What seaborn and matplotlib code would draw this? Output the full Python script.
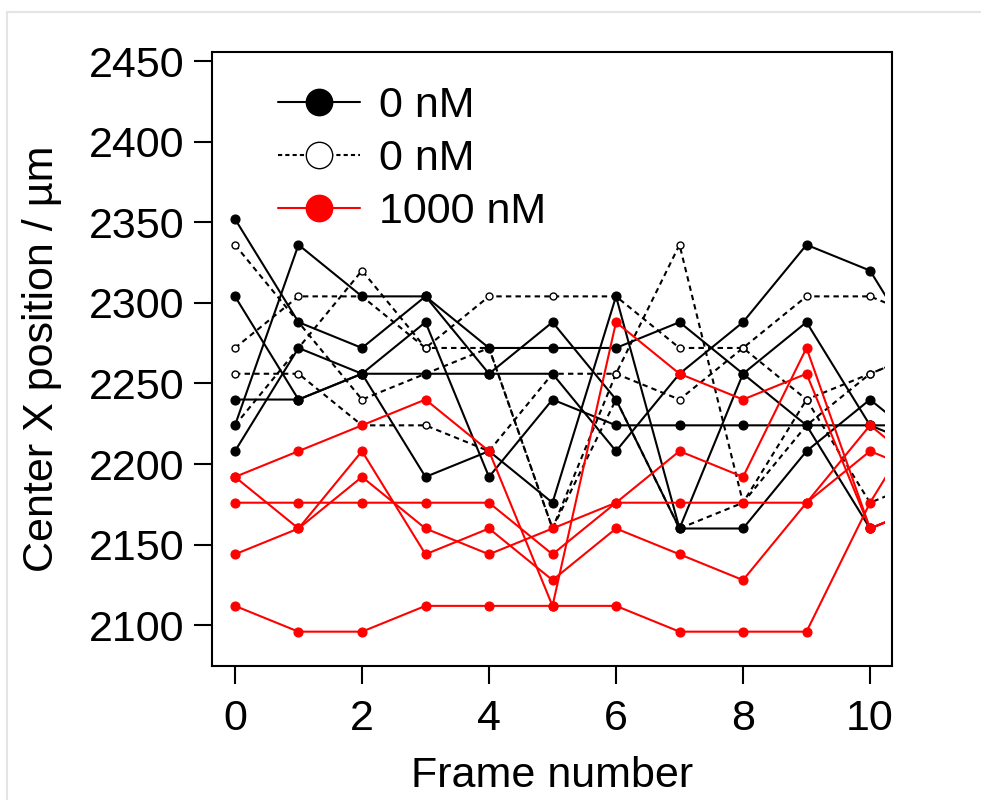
import pandas as pd
import matplotlib
matplotlib.use('Agg')
import matplotlib.pyplot as plt
import seaborn as sns
from matplotlib.lines import Line2D
from matplotlib.patches import Rectangle

# 프레임 번호 (마지막 점은 축 밖으로 잘림)
frames = list(range(12))

# 0 nM (실선, 채운 점)
solid_a = [2352, 2288, 2272, 2304, 2256, 2288, 2240, 2160, 2256, 2288, 2224, 2208]
solid_b = [2304, 2240, 2256, 2256, 2256, 2256, 2208, 2256, 2288, 2336, 2320, 2256]
solid_c = [2240, 2240, 2256, 2192, 2208, 2176, 2304, 2160, 2160, 2208, 2240, 2208]
solid_d = [2224, 2336, 2304, 2304, 2272, 2272, 2272, 2288, 2256, 2224, 2160, 2176]
solid_e = [2208, 2272, 2256, 2288, 2192, 2240, 2224, 2224, 2224, 2224, 2224, 2224]

# 0 nM (점선, 빈 점)
dash_a = [2336, 2288, 2240, 2256, 2272, 2160, 2256, 2336, 2176, 2240, 2176, 2192]
dash_b = [2272, 2304, 2304, 2272, 2304, 2304, 2304, 2272, 2272, 2304, 2304, 2288]
dash_c = [2256, 2256, 2224, 2224, 2208, 2256, 2256, 2240, 2272, 2240, 2256, 2272]
dash_d = [2224, 2272, 2320, 2272, 2272, 2160, 2240, 2160, 2176, 2224, 2256, 2272]

# 1000 nM (빨강)
red_a = [2192, 2208, 2224, 2240, 2208, 2112, 2288, 2256, 2240, 2256, 2160, 2176]
red_b = [2192, 2160, 2208, 2144, 2160, 2128, 2160, 2144, 2128, 2176, 2208, 2192]
red_c = [2176, 2176, 2176, 2176, 2176, 2144, 2176, 2176, 2176, 2176, 2224, 2192]
red_d = [2144, 2160, 2192, 2160, 2144, 2160, 2176, 2208, 2192, 2272, 2160, 2176]
red_e = [2112, 2096, 2096, 2112, 2112, 2112, 2112, 2096, 2096, 2096, 2176, 2240]

groups = {
    'solid': [solid_a, solid_b, solid_c, solid_d, solid_e],
    'dash': [dash_a, dash_b, dash_c, dash_d],
    'red': [red_a, red_b, red_c, red_d, red_e],
}

rows = []
for g, series in groups.items():
    for i, vals in enumerate(series):
        for f, v in zip(frames, vals):
            rows.append({'group': g, 'track': f'{g}{i}', 'frame': f, 'x': v})
df = pd.DataFrame(rows)

sns.set_style('ticks')
plt.rcParams['font.family'] = ['Liberation Sans', 'DejaVu Sans']
plt.rcParams['text.color'] = 'black'
plt.rcParams['axes.labelcolor'] = 'black'
plt.rcParams['xtick.color'] = 'black'
plt.rcParams['ytick.color'] = 'black'
FS = 31

fig = plt.figure(figsize=(9.81, 8.0), dpi=100)
ax = fig.add_axes([212 / 981, 1 - 666 / 800, 680 / 981, 614 / 800])

styles = {
    'solid': dict(color='black', ls='-', marker='o', ms=6.5, mfc='black', mec='black', lw=1.5),
    'dash': dict(color='black', ls=(0, (2.6, 2.0)), marker='o', ms=5, mfc='white', mec='black', mew=1, lw=1.5),
    'red': dict(color='red', ls='-', marker='o', ms=6.5, mfc='red', mec='red', lw=1.5),
}

clip = Rectangle((-1, 2000), 11.24, 600, transform=ax.transData)
for g in ['dash', 'solid', 'red']:
    sub = df[df['group'] == g]
    st = styles[g]
    for trk, d in sub.groupby('track'):
        sns.lineplot(data=d, x='frame', y='x', ax=ax, estimator=None, sort=False,
                     color=st['color'], linestyle=st['ls'], linewidth=st['lw'],
                     marker=st['marker'], markersize=st['ms'],
                     markerfacecolor=st['mfc'], markeredgecolor=st['mec'],
                     markeredgewidth=st.get('mew', 0.8), legend=False)
for ln in ax.lines:
    ln.set_clip_path(clip)

ax.set_xlim(-0.362, 10.346)
ax.set_ylim(2074.7, 2455.6)
ax.set_xticks([0, 2, 4, 6, 8, 10])
ax.set_yticks([2100, 2150, 2200, 2250, 2300, 2350, 2400, 2450])
ax.tick_params(axis='both', direction='out', length=13, width=1.5, labelsize=FS, color='black', labelcolor='black')
ax.tick_params(axis='x', pad=11)
ax.tick_params(axis='y', pad=7)
for s in ax.spines.values():
    s.set_linewidth(1.5)
    s.set_color('black')
    s.set_visible(True)
ax.set_xlabel('Frame number', fontsize=FS, labelpad=12)
ax.set_ylabel('Center X position / µm', fontsize=FS, labelpad=19)

handles = [
    Line2D([], [], color='black', lw=1.5, marker='o', ms=19, mfc='black', mec='black'),
    Line2D([], [], color='black', lw=1.5, ls=(0, (2, 1.5)), marker='o', ms=19, mfc='white', mec='black', mew=1),
    Line2D([], [], color='red', lw=1.5, marker='o', ms=19, mfc='red', mec='red'),
]
ax.legend(handles, ['0 nM', '0 nM', '1000 nM'], loc='upper left', bbox_to_anchor=(0.097, 0.945),
          frameon=False, fontsize=FS, handlelength=1.9, handletextpad=0.45,
          labelspacing=0.3, borderpad=0, borderaxespad=0)

# 바깥 옅은 테두리
fig.add_artist(Line2D([7 / 981, 1], [1 - 12 / 800, 1 - 12 / 800], color='#e4e4e4', lw=1.5))
fig.add_artist(Line2D([7 / 981, 7 / 981], [0, 1 - 12 / 800], color='#e4e4e4', lw=1.5))

fig.savefig('out.png', dpi=100)
